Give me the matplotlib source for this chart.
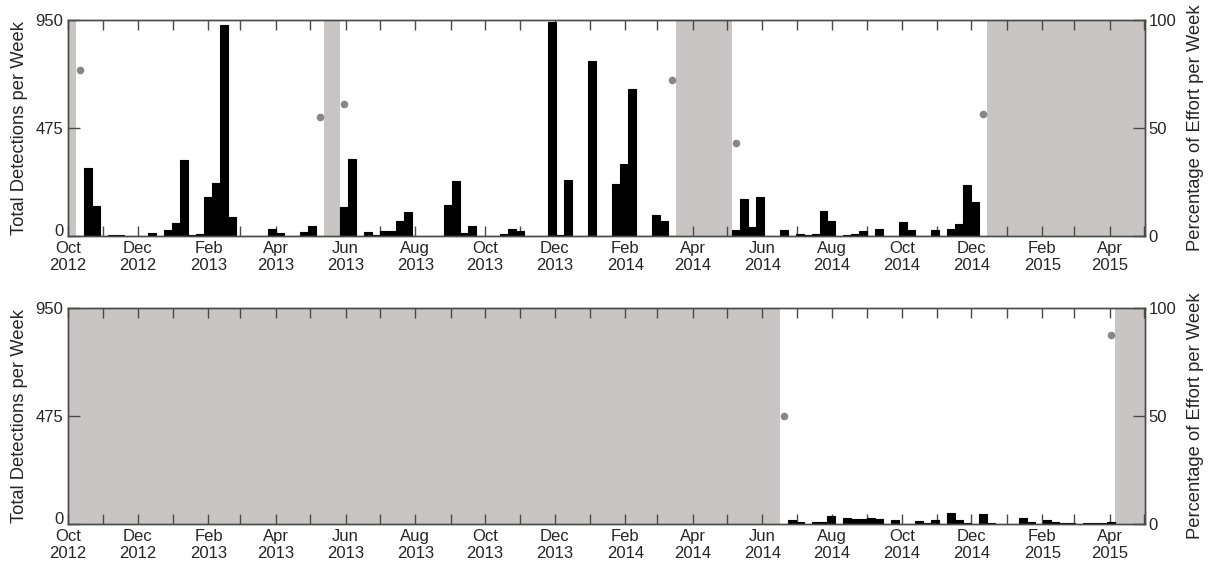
import datetime as dt

import numpy as np
import matplotlib
matplotlib.use("Agg")
import matplotlib.pyplot as plt
import matplotlib.dates as mdates
import matplotlib.transforms as mtransforms
from matplotlib.ticker import FuncFormatter

plt.rcParams['font.family'] = ['Liberation Sans', 'DejaVu Sans']

# Weekly bins start on this Monday; week numbers below count from it
series_start = dt.date(2012, 10, 1)
axis_end = dt.date(2015, 5, 2)

# ---- Upper deployment -------------------------------------------------
top_weeks = [2, 3, 5, 6, 10, 12, 13, 14, 15, 16, 17, 18, 19, 20,
             22, 23, 24, 25, 26, 28, 29, 30, 34, 35, 37, 38, 39, 40,
             41, 42, 43, 45, 46, 47, 48, 49, 50, 52, 53, 54, 55, 56,
             58, 59, 60, 61, 62, 64, 65, 67, 68, 69, 70, 71, 72, 73,
             74, 75, 83, 84, 85, 86, 87, 89, 91, 92, 93, 94, 95, 97,
             98, 99, 100, 101, 104, 105, 106, 107, 108, 110, 111, 112, 113]
top_counts = [300, 132, 3, 3, 12, 26, 56, 334, 5, 8, 173, 232, 930, 82,
              2, 2, 2, 31, 12, 2, 16, 45, 126, 339, 16, 3, 22, 22,
              67, 107, 2, 2, 2, 136, 243, 15, 44, 2, 2, 9, 29, 24,
              2, 2, 940, 3, 246, 2, 771, 2, 229, 317, 645, 2, 2, 92,
              67, 2, 26, 163, 38, 170, 2, 26, 10, 4, 10, 111, 67, 3,
              9, 22, 2, 31, 60, 26, 2, 2, 26, 31, 53, 224, 151]
# weeks without recording effort: [first, last) week numbers
top_gaps = [(0, 1), (32, 34), (76, 83), (115, 135)]
top_partial_weeks = [1, 31, 34, 75, 83, 114]
top_effort_pct = [77, 55, 61, 72, 43, 56.5]

# ---- Lower deployment -------------------------------------------------
bottom_weeks = [90, 91, 93, 94, 95, 97, 98, 99, 100, 101, 103, 106, 107,
                108, 110, 111, 112, 114, 115, 119, 120, 122, 123, 124,
                125, 127, 128, 129, 130]
bottom_counts = [19, 10, 9, 9, 36, 26, 22, 22, 26, 24, 16, 14, 6,
                 18, 47, 18, 6, 42, 3, 25, 8, 18, 8, 3,
                 3, 6, 6, 6, 8]
bottom_gaps = [(0, 89), (131, 135)]
bottom_partial_weeks = [89, 130]
bottom_effort_pct = [50, 87.5]

count_ticks = [0, 475, 950]
effort_ticks = [0, 50, 100]

GAP_COLOR = '#C9C5C5'
DOT_COLOR = '#878787'
SPINE_COLOR = '#4a4a4a'
TEXT_COLOR = '#262626'
TICK_SIZE = 12
LABEL_SIZE = 13.2

base = mdates.date2num(series_start)


def month_label(value, pos):
    d = mdates.num2date(value)
    return d.strftime('%b\n%Y') if d.month % 2 == 0 else ''


def draw_panel(fig, ax, weeks, counts, gaps, partial_weeks, effort_pct):
    starts = base + 7 * np.asarray(weeks, dtype=float)
    ax.bar(starts, counts, width=7, align='edge', color='black',
           edgecolor='black', linewidth=0.8, zorder=2)
    for first, last in gaps:
        ax.axvspan(base + 7 * first, base + 7 * last, color=GAP_COLOR,
                   linewidth=0, zorder=1)

    ax.set_xlim(base, mdates.date2num(axis_end))
    ax.set_ylim(count_ticks[0], count_ticks[-1])
    ax.set_yticks(count_ticks)
    ax.xaxis.set_major_locator(mdates.MonthLocator())
    ax.xaxis.set_major_formatter(FuncFormatter(month_label))
    ax.tick_params(axis='x', direction='in', top=True, bottom=True,
                   length=7.5, width=1, color=SPINE_COLOR, pad=3.5,
                   labelsize=TICK_SIZE, labelcolor=TEXT_COLOR)
    ax.tick_params(axis='y', direction='in', left=True, right=False,
                   length=8.5, width=1, color=SPINE_COLOR, pad=3.5,
                   labelsize=TICK_SIZE, labelcolor=TEXT_COLOR)
    # lift the lowest count label a little so it clears the month label
    zero_label = ax.get_yticklabels()[0]
    lift = mtransforms.ScaledTranslation(0, 4.5 / 72, fig.dpi_scale_trans)
    zero_label.set_transform(zero_label.get_transform() + lift)

    ax2 = ax.twinx()
    centers = base + 7 * np.asarray(partial_weeks, dtype=float) + 3.5
    ax2.plot(centers, effort_pct, 'o', color=DOT_COLOR, markersize=5.5,
             markeredgewidth=0, zorder=3)
    ax2.set_ylim(effort_ticks[0], effort_ticks[-1])
    ax2.set_yticks(effort_ticks)
    ax2.tick_params(axis='y', direction='in', length=8.5, width=1,
                    color=SPINE_COLOR, pad=2.5, labelsize=TICK_SIZE,
                    labelcolor=TEXT_COLOR)
    for a in (ax, ax2):
        for spine in a.spines.values():
            spine.set_color(SPINE_COLOR)
            spine.set_linewidth(1.0)
    return ax2


fig = plt.figure(figsize=(12.09, 5.69), dpi=100)
W, H = 1209.0, 569.0
ax_top = fig.add_axes([68 / W, 1 - 236 / H, 1077 / W, 216 / H])
ax_bot = fig.add_axes([68 / W, 1 - 524 / H, 1077 / W, 216 / H])

draw_panel(fig, ax_top, top_weeks, top_counts, top_gaps,
           top_partial_weeks, top_effort_pct)
draw_panel(fig, ax_bot, bottom_weeks, bottom_counts, bottom_gaps,
           bottom_partial_weeks, bottom_effort_pct)

for y_mid in (128, 416):
    fig.text(20 / W, 1 - y_mid / H, 'Total Detections per Week',
             rotation=90, ha='center', va='center', fontsize=LABEL_SIZE,
             color=TEXT_COLOR)
    fig.text(1196 / W, 1 - y_mid / H, 'Percentage of Effort per Week',
             rotation=90, ha='center', va='center', fontsize=LABEL_SIZE,
             color=TEXT_COLOR)

fig.savefig('out.png', dpi=100)
